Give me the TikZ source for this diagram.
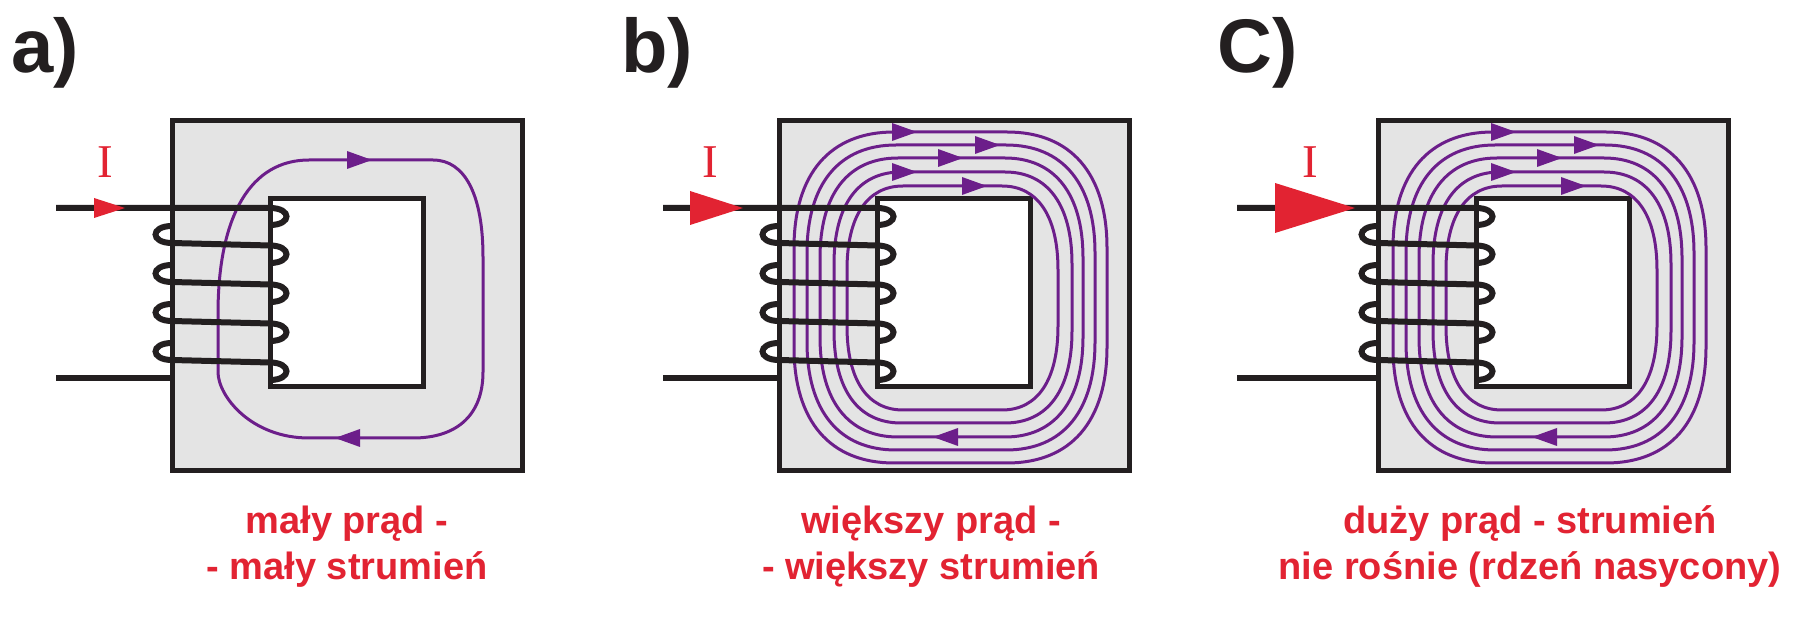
\documentclass[tikz,border=0pt]{standalone}
\usepackage{fontspec}
\setmainfont{Liberation Sans}
\newfontfamily\serifI{Liberation Serif}
\definecolor{inkblack}{RGB}{35,31,32}
\definecolor{coregray}{RGB}{228,228,228}
\definecolor{fluxpurple}{RGB}{108,30,138}
\definecolor{currred}{RGB}{226,35,50}
\tikzset{
  corebox/.style={draw=inkblack, fill=coregray, line width=5pt},
  windowbox/.style={draw=inkblack, fill=white, line width=5pt},
  flux/.style={draw=fluxpurple, line width=3pt, line join=round},
  wire/.style={draw=inkblack, line width=6pt},
  panellabel/.style={inner sep=0pt, anchor=base west, text=inkblack, font=\fontsize{76}{80}\selectfont\bfseries},
  caption/.style={inner sep=0pt, anchor=base, text=currred, font=\fontsize{38}{46}\selectfont\bfseries},
  currlabel/.style={inner sep=0pt, anchor=base, text=currred, font=\serifI\fontsize{47}{47}\selectfont},
}
% flux loop: L T R B rx ry
\newcommand\fluxloop[6]{%
  \pgfmathsetmacro\fqx{#5*0.36}%
  \pgfmathsetmacro\fqy{#6*0.36}%
  \draw[flux] ({#1+#5},#2) -- ({#3-#5},#2)
    .. controls ({#3-\fqx},#2) and (#3,{#2+\fqy}) .. (#3,{#2+#6})
    -- (#3,{#4-#6})
    .. controls (#3,{#4-\fqy}) and ({#3-\fqx},#4) .. ({#3-#5},#4)
    -- ({#1+#5},#4)
    .. controls ({#1+\fqx},#4) and (#1,{#4-\fqy}) .. (#1,{#4-#6})
    -- (#1,{#2+#6})
    .. controls (#1,{#2+\fqy}) and ({#1+\fqx},#2) .. ({#1+#5},#2) -- cycle;}
% flux arrowheads (tip x, y)
\newcommand\farrowR[2]{\fill[fluxpurple] (#1,#2) -- ++(-25,-9) -- ++(0,18) -- cycle;}
\newcommand\farrowL[2]{\fill[fluxpurple] (#1,#2) -- ++(25,-9) -- ++(0,18) -- cycle;}
% core: X
\newcommand\corepanel[1]{%
  \draw[corebox] (#1,121) rectangle ({#1+350},471);
  \draw[windowbox] ({#1+98},199) rectangle ({#1+251},387);}
% coil: X, wire start
\newcommand\coilpanel[2]{%
  \draw[wire] (#2,208) -- ({#1+98},208)
    .. controls ({#1+120},208) and ({#1+120},225) .. ({#1+98},225);
  \foreach \k in {1,2,3,4}{%
    \pgfmathsetmacro\yk{204+39*\k}%
    \draw[wire] (#1,{\yk-17}) .. controls ({#1-22},{\yk-17}) and ({#1-22},\yk) .. (#1,\yk)
      -- ({#1+98},{\yk+2.5})
      .. controls ({#1+120},{\yk+2.5}) and ({#1+120},{\yk+20}) .. ({#1+98},{\yk+20});
  }
  \draw[wire] (#1,378) -- (#2,378);}
% five flux loops for panels b and c
\newcommand\fiveflux[1]{%
  \fluxloop{#1+15}{132}{#1+328}{463}{100}{116}
  \fluxloop{#1+28}{145}{#1+316}{450}{89}{108}
  \fluxloop{#1+41}{158}{#1+304}{437}{78}{100}
  \fluxloop{#1+55}{172}{#1+293}{423}{67}{92}
  \fluxloop{#1+68}{186}{#1+279}{410}{56}{84}
  \farrowR{#1+138}{132}
  \farrowR{#1+221}{145}
  \farrowR{#1+184}{158}
  \farrowR{#1+138}{172}
  \farrowR{#1+208}{186}
  \farrowL{#1+154}{437}}
\begin{document}
\begin{tikzpicture}[x=1pt,y=-1pt]
\useasboundingbox (0,0) rectangle (1808,617);
\fill[white] (0,0) rectangle (1808,617);

% ---------- panel a ----------
\corepanel{172}
\draw[flux] (309,160) -- (433,160)
  .. controls (465,160) and (483,195) .. (483,257)
  -- (483,372)
  .. controls (483,414) and (458,438) .. (413,438)
  -- (309,438)
  .. controls (251,438) and (218,396) .. (218,372)
  -- (218,314)
  .. controls (218,215) and (251,160) .. (309,160) -- cycle;
\farrowR{372}{160}
\farrowL{335}{438}
\coilpanel{172}{56}
\fill[currred] (125,208) -- (94,198) -- (94,218) -- cycle;
\node[currlabel] (Ia) at (105,178) {I};
\node[panellabel] (labA) at (11,73) {a)};
\node[caption] (capA1) at (347,533) {mały prąd -};
\node[caption] (capA2) at (347,579) {- mały strumień};

% ---------- panel b ----------
\corepanel{779}
\fiveflux{779}
\coilpanel{779}{663}
\fill[currred] (743,208) -- (690,191) -- (690,225) -- cycle;
\node[currlabel] (Ib) at (710,178) {I};
\node[panellabel] (labB) at (621,73) {b)};
\node[caption] (capB1) at (931,533) {większy prąd -};
\node[caption] (capB2) at (931,579) {- większy strumień};

% ---------- panel c ----------
\corepanel{1378}
\fiveflux{1378}
\coilpanel{1378}{1237}
\fill[currred] (1355,208) -- (1275,183) -- (1275,233) -- cycle;
\node[currlabel] (Ic) at (1310,178) {I};
\node[panellabel] (labC) at (1217,73) {C)};
\node[caption] (capC1) at (1530,533) {duży prąd - strumień};
\node[caption] (capC2) at (1530,579) {nie rośnie (rdzeń nasycony)};
\end{tikzpicture}
\end{document}
